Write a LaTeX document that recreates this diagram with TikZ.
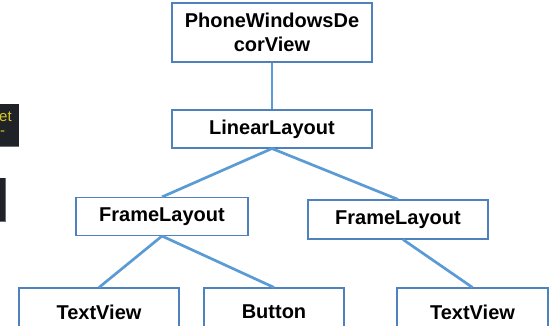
\documentclass[tikz,border=0pt]{standalone}
\usepackage{fontspec}
\setmainfont{Liberation Sans}
\usepackage{xcolor}
\usetikzlibrary{positioning}

\definecolor{boxline}{HTML}{4F81BD}
\definecolor{treeline}{HTML}{5B9BD5}
\definecolor{darkpanel}{HTML}{1F2328}
\definecolor{paneledge}{HTML}{6B6E72}
\definecolor{panelyellow}{HTML}{D6C32B}

\begin{document}
\begin{tikzpicture}[x=1pt, y=-1pt,
    view/.style={rectangle, draw=boxline, line width=1.1pt, fill=white, inner sep=0pt, align=center, font=\fontsize{20}{24}\selectfont\bfseries},
    link/.style={draw=treeline, line width=2.7pt}
]
\useasboundingbox (0,0) rectangle (549,326);
\clip (0,0) rectangle (549,326);

% Panels cut off at the left edge
\fill[darkpanel] (-5,104) rectangle (19,147);
\draw[paneledge, line width=1pt] (-5,146.5) -- (19,146.5);
\node[panelyellow, anchor=west, inner sep=0pt, font=\fontsize{15}{18}\selectfont] (panelA) at (-1,117) {et};
\node[panelyellow, anchor=west, inner sep=0pt, font=\fontsize{15}{18}\selectfont] (panelB) at (0,133) {-};
\fill[darkpanel] (-5,178) rectangle (6,222);
\draw[paneledge, line width=1pt] (-5,221.5) -- (5.5,221.5) -- (5.5,178);

% Views
\node[view, minimum width=200pt, minimum height=59pt] (decor) at (272,32.5) {PhoneWindowsDe\\corView};
\node[view, minimum width=200pt, minimum height=38pt] (linear) at (272,129) {LinearLayout};
\node[view, minimum width=172pt, minimum height=38pt] (frameL) at (162,216.5) {FrameLayout};
\node[view, minimum width=180pt, minimum height=39pt] (frameR) at (398,219.5) {FrameLayout};
\node[view, minimum width=160pt, minimum height=48pt] (textL) at (99,312) {TextView};
\node[view, minimum width=140pt, minimum height=48pt] (button) at (274,312) {Button};
\node[view, minimum width=151pt, minimum height=48pt] (textR) at (472.5,312) {TextView};

% Links
\draw[link] (decor.south) -- (linear.north);
\draw[link] (linear.south) -- (frameL.north);
\draw[link] (linear.south) -- (frameR.north);
\draw[link] (frameL.south) -- (textL.north);
\draw[link] (frameL.south) -- (button.north);
\draw[link] ([xshift=5pt]frameR.south) -- (textR.north);

\end{tikzpicture}
\end{document}
